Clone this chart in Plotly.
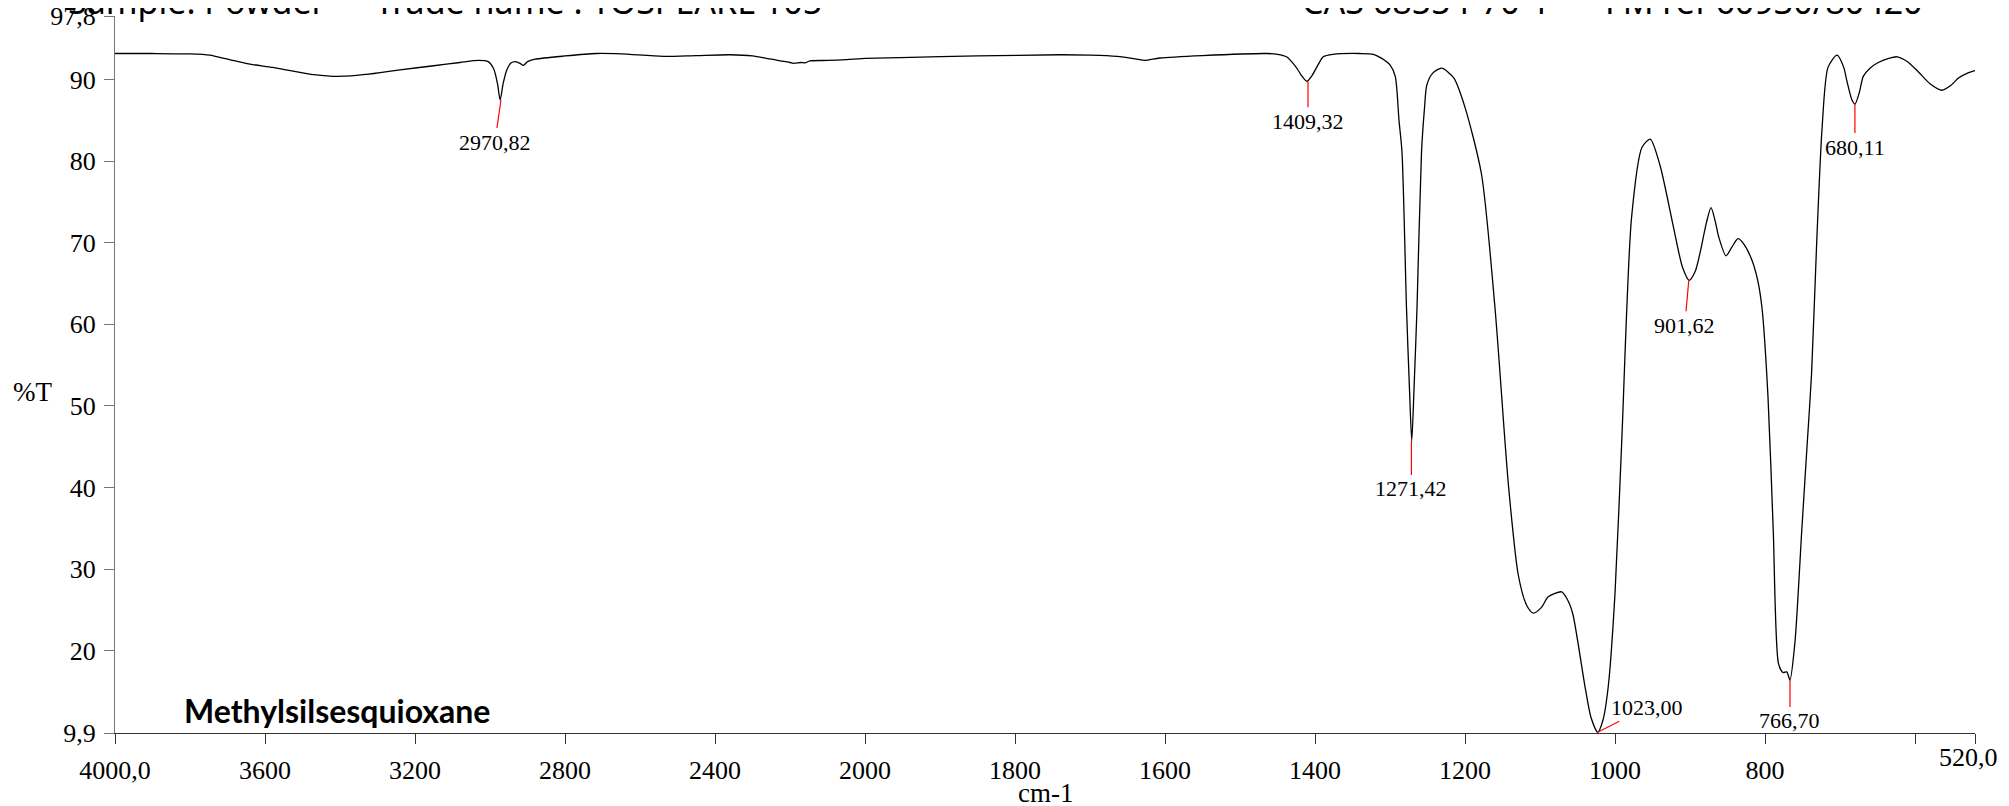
import plotly.graph_objects as go

# ---- data ----
wavenumber = [4000, 3900, 3800, 3747, 3700, 3640, 3580, 3533, 3470, 3419, 3370, 3328, 3293, 3240,
              3150, 3080, 3030, 3005, 2990, 2980, 2973, 2965, 2955, 2945, 2932, 2920, 2911, 2900,
              2880, 2800, 2716, 2650, 2538, 2450, 2360, 2300, 2250, 2200, 2191, 2170, 2160, 2147,
              2100, 2049, 2000, 1953, 1850, 1740, 1700, 1664, 1640, 1627, 1607, 1550, 1464, 1450,
              1438, 1425, 1418, 1411, 1404, 1396, 1389, 1376, 1340, 1322, 1311, 1300, 1293, 1288,
              1284, 1278, 1274, 1271, 1268, 1264, 1258, 1254, 1251, 1243, 1231, 1215, 1200, 1178,
              1160, 1142, 1129, 1118, 1109, 1098, 1089, 1071, 1062, 1056, 1040, 1032, 1023, 1016,
              1009, 1000, 991, 978, 964, 953, 940, 922, 910, 901, 893, 887, 878, 872, 866, 862,
              852, 844, 836, 828, 818, 810, 804, 796, 789, 782, 776, 771, 766.7, 760, 751, 744,
              738, 731, 724, 716, 704, 695, 691, 684, 680, 674, 669, 660, 649, 635, 624, 610,
              596, 580, 564, 552, 542, 530, 520]
transmittance = [93.2, 93.2, 93.15, 93.0, 92.5, 91.9, 91.5, 91.1, 90.6, 90.4, 90.45, 90.65, 90.85, 91.2,
                 91.7, 92.1, 92.35, 92.2, 91.3, 89.5, 87.5, 89.5, 91.2, 92.0, 92.2, 92.0, 91.75, 92.2,
                 92.5, 92.9, 93.2, 93.15, 92.85, 92.95, 93.05, 92.9, 92.5, 92.1, 92.0, 92.1, 92.05, 92.3,
                 92.35, 92.45, 92.6, 92.7, 92.9, 93.05, 93.0, 92.85, 92.55, 92.35, 92.65, 92.95, 93.2, 93.1,
                 92.8, 91.5, 90.5, 89.8, 90.5, 91.8, 92.8, 93.1, 93.2, 93.1, 92.6, 91.8, 90.4, 85.0,
                 81.1, 62.0, 52.0, 45.7, 52.0, 62.0, 81.1, 86.5, 89.3, 90.8, 91.4, 90.2, 86.6, 78.4,
                 62.0, 40.2, 29.3, 25.6, 24.6, 25.3, 26.6, 27.2, 26.0, 24.4, 15.6, 11.8, 10.0, 11.5,
                 15.6, 27.0, 45.7, 73.0, 81.7, 82.7, 79.5, 71.9, 67.0, 65.4, 66.5, 68.6, 72.5, 74.3, 72.5, 70.8,
                 68.4, 69.5, 70.5, 69.8, 68.0, 65.5, 62.0, 51.1, 34.7, 18.4, 17.3, 17.4, 16.4, 21.1, 34.7, 45.0,
                 53.8, 70.2, 83.9, 91.5, 93.0, 91.5, 89.9, 87.5, 87.0, 88.5, 90.4, 91.4, 92.1, 92.6, 92.8, 92.2,
                 91.0, 89.5, 88.7, 89.3, 90.2, 90.8, 91.1]

peak_wavenumbers = [2970.82, 1409.32, 1271.42, 1023.00, 901.62, 766.70, 680.11]
peak_values = [87.5, 89.8, 45.7, 10.0, 65.4, 16.4, 87.0]
peak_labels = ["2970,82", "1409,32", "1271,42", "1023,00", "901,62", "766,70", "680,11"]

x_ticks_left = [4000, 3600, 3200, 2800, 2400]
x_ticklabels_left = ["4000,0", "3600", "3200", "2800", "2400"]
x_ticks_right = [2000, 1800, 1600, 1400, 1200, 1000, 800, 600, 520]
x_ticklabels_right = ["2000", "1800", "1600", "1400", "1200", "1000", "800", "", "520,0"]
y_ticks = [9.9, 20, 30, 40, 50, 60, 70, 80, 90, 97.8]
y_ticklabels = ["9,9", "20", "30", "40", "50", "60", "70", "80", "90", "97,8"]

header_texts = ["Sample: Powder", "Trade name : TOSPEARL 105", "CAS 68554-70-1", "FM ref 60930/80420"]

# ---- figure ----
W, H = 2009, 806
OFF = 8  # page body margin offsets the figure in the window
L, R, T, B = 107, 42, 7.6, 80.7
split = 750 / 1860  # 4000-2000 region is drawn at half scale

left_x = [w for w in wavenumber if w >= 2000]
left_y = [t for w, t in zip(wavenumber, transmittance) if w >= 2000]
right_x = [w for w in wavenumber if w <= 2000]
right_y = [t for w, t in zip(wavenumber, transmittance) if w <= 2000]

line_style = dict(color="black", width=1.3, shape="spline", smoothing=0.7)
fig = go.Figure()
fig.add_trace(go.Scatter(x=left_x, y=left_y, mode="lines", line=line_style, xaxis="x", yaxis="y",
                         hoverinfo="skip"))
fig.add_trace(go.Scatter(x=right_x, y=right_y, mode="lines", line=line_style, xaxis="x2", yaxis="y",
                         hoverinfo="skip"))

serif = "Liberation Serif"
tick_font = dict(family=serif, size=26, color="black")
axis_common = dict(showgrid=False, zeroline=False, showline=True, linecolor="#333333", linewidth=1.3,
                   ticks="outside", ticklen=10, tickcolor="#333333", tickwidth=1.3, automargin=False,
                   tickfont=tick_font, ticklabelstandoff=4, ticklabeloverflow="allow")

# the last label ("520,0") is drawn slightly left of its tick, as in the reference
right_ticktext = x_ticklabels_right[:-1] + [""]

fig.update_layout(
    width=W, height=H, autosize=False,
    margin=dict(l=L, r=R, t=T, b=B, pad=0, autoexpand=False),
    paper_bgcolor="white", plot_bgcolor="white",
    showlegend=False,
    xaxis=dict(domain=[0, split], range=[4000, 2000], tickmode="array", tickvals=x_ticks_left,
               ticktext=x_ticklabels_left, anchor="y", **axis_common),
    xaxis2=dict(domain=[split, 1], range=[2000, 520], tickmode="array", tickvals=x_ticks_right,
                ticktext=right_ticktext, anchor="y", **axis_common),
    yaxis=dict(range=[9.9, 97.8], tickmode="array", tickvals=y_ticks, ticktext=y_ticklabels,
               anchor="x", **{**axis_common, "linecolor": "#777777", "tickcolor": "#777777",
                              "ticklabelstandoff": 3}),
)

# peak labels with red markers
offsets = [(-6, 42), (0, 40), (0, 48), (49, -25), (-4, 45), (0, 41), (0, 43)]
for wn, val, lab, (ax, ay) in zip(peak_wavenumbers, peak_values, peak_labels, offsets):
    fig.add_annotation(x=wn, y=val, xref="x" if wn >= 2000 else "x2", yref="y",
                       text=lab, showarrow=True, arrowhead=0, arrowcolor="red", arrowwidth=1.2,
                       standoff=0, ax=ax, ay=ay, font=dict(family=serif, size=22, color="black"))

plot_h = H - T - B
plot_w = W - L - R


def px(xp):  # window pixel -> paper x
    return (xp - OFF - L) / plot_w


def py(yp):  # window pixel -> paper y
    return (H - B - (yp - OFF)) / plot_h


fig.add_annotation(x=x_ticks_right[-1], xref="x2", y=py(758), yref="paper", text=x_ticklabels_right[-1],
                   showarrow=False, xanchor="center", yanchor="middle", xshift=-7, font=tick_font)

header_font = dict(family="Noto Sans", size=34, color="black")
for txt, xp in zip(header_texts, [66, 373, 1300, 1603]):
    fig.add_annotation(x=px(xp), y=py(0.5), xref="paper", yref="paper", text=txt, showarrow=False,
                       xanchor="left", yanchor="middle", font=header_font)

fig.add_annotation(x=px(182), y=py(711), xref="paper", yref="paper", text="<b>Methylsilsesquioxane</b>",
                   showarrow=False, xanchor="left", yanchor="middle",
                   font=dict(family="Lato", size=32, color="black"))
fig.add_annotation(x=px(32), y=py(392), xref="paper", yref="paper", text="%T", showarrow=False,
                   xanchor="center", yanchor="middle", font=dict(family=serif, size=27, color="black"))
fig.add_annotation(x=px(1045), y=py(793), xref="paper", yref="paper", text="cm-1", showarrow=False,
                   xanchor="center", yanchor="middle", font=dict(family=serif, size=27, color="black"))

fig.write_html("out.html")
